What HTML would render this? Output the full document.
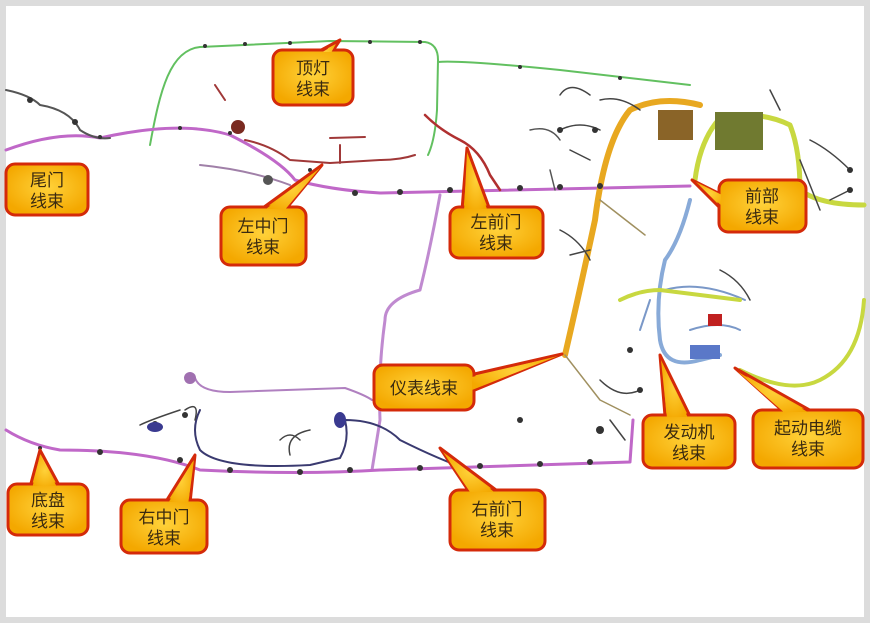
<!DOCTYPE html>
<html><head><meta charset="utf-8"><style>
html,body{margin:0;padding:0;background:#dcdcdc;}
svg{display:block;}
text{font-family:"Liberation Sans","Noto Sans CJK SC",sans-serif;font-size:17px;fill:#3a2a10;text-anchor:middle;}
</style></head><body>
<svg width="870" height="623" viewBox="0 0 870 623" xmlns="http://www.w3.org/2000/svg">
<defs>
<radialGradient id="g" cx="50%" cy="45%" r="60%"><stop offset="0" stop-color="#ffd23a"/><stop offset="1" stop-color="#f4a800"/></radialGradient>
</defs>
<rect x="0" y="0" width="870" height="623" fill="#dcdcdc"/>
<rect x="6" y="6" width="858" height="611" fill="#fff"/>

<g fill="none" stroke-linecap="round" stroke-linejoin="round">
<path d="M150 145 C160 90 170 50 200 47 L330 41 L425 42 Q438 44 438 60 L437 110 Q435 140 428 155 M438 62 Q460 60 560 70 L690 85" stroke="#62c060" stroke-width="2"/>
<path d="M6 150 Q60 130 100 138 Q180 120 230 135 Q280 160 295 180 Q330 190 380 193 L690 186" stroke="#c068c8" stroke-width="3"/>
<path d="M6 90 Q30 95 40 105 Q70 110 80 130 Q95 140 110 138" stroke="#555" stroke-width="2"/>
<path d="M200 165 Q250 170 290 185" stroke="#a080a8" stroke-width="2"/>
<path d="M245 140 Q270 145 290 160 L330 163 L380 160 Q400 160 415 155 M340 145 L340 163 M330 138 L365 137 M215 85 L225 100" stroke="#a03838" stroke-width="2"/>
<path d="M425 115 Q440 130 460 140 Q480 150 490 175 L500 190" stroke="#b03030" stroke-width="2.5"/>
<path d="M440 195 Q430 250 420 290 Q385 300 385 320 Q378 370 380 420 L372 470" stroke="#c08ad0" stroke-width="3"/>
<path d="M6 430 Q30 445 60 450 Q150 450 200 470 Q300 475 380 470 L630 462 L633 420" stroke="#c068c8" stroke-width="3"/>
<path d="M200 410 Q190 430 200 450 Q220 470 310 465 L340 458 Q350 440 345 420 Q380 420 400 440 Q440 460 470 470" stroke="#3a3a70" stroke-width="2"/>
<path d="M180 410 Q150 420 140 425 M185 410 Q200 400 195 420 M280 440 Q290 430 300 440 M290 455 Q285 435 310 430" stroke="#444" stroke-width="1.5"/>
<path d="M195 378 Q200 392 230 392 L345 388 Q365 395 372 400" stroke="#b080c0" stroke-width="2"/>
<path d="M565 355 Q580 290 595 220 Q605 140 630 110 Q660 95 700 105" stroke="#e8a820" stroke-width="6"/>
<path d="M695 180 Q700 140 720 118 Q760 110 790 125 Q800 150 800 190 Q820 205 864 205" stroke="#c8d840" stroke-width="5"/>
<path d="M690 200 Q680 240 665 260 Q655 300 660 340 Q665 370 700 360 L720 355" stroke="#88aad8" stroke-width="4"/>
<path d="M665 290 Q700 280 745 300 M690 330 Q720 320 740 330 M640 330 L650 300" stroke="#7a98c8" stroke-width="2"/>
<path d="M620 300 Q640 290 660 290 L740 300 M740 370 Q790 395 820 380 Q860 360 864 300" stroke="#c8d840" stroke-width="4"/>
<path d="M565 355 L600 400 L630 415 M600 200 L645 235" stroke="#a09060" stroke-width="1.5"/>
<path d="M560 130 Q580 120 600 130 M600 100 Q620 95 640 110 M590 160 L570 150 M560 230 Q580 240 590 260 M570 255 L590 250 M600 380 Q620 400 640 390 M610 420 L625 440 M770 90 L780 110 M810 140 Q830 150 850 170 M830 200 L850 190 M800 160 L820 210 M720 270 Q740 280 750 300 M560 95 Q570 80 590 95" stroke="#444" stroke-width="1.5"/>
<path d="M530 130 Q550 125 560 140 M550 170 L555 190" stroke="#555" stroke-width="1.5"/>
</g>
<g fill="#333">
<circle cx="205" cy="46" r="2"/><circle cx="245" cy="44" r="2"/><circle cx="290" cy="43" r="2"/><circle cx="370" cy="42" r="2"/><circle cx="420" cy="42" r="2"/><circle cx="520" cy="67" r="2"/><circle cx="620" cy="78" r="2"/>
<circle cx="30" cy="100" r="3"/><circle cx="75" cy="122" r="3"/><circle cx="100" cy="137" r="2"/><circle cx="180" cy="128" r="2"/><circle cx="230" cy="133" r="2"/>
<circle cx="310" cy="170" r="2"/><circle cx="355" cy="193" r="3"/><circle cx="400" cy="192" r="3"/><circle cx="450" cy="190" r="3"/><circle cx="520" cy="188" r="3"/><circle cx="560" cy="187" r="3"/><circle cx="600" cy="186" r="3"/>
<circle cx="40" cy="448" r="2"/><circle cx="100" cy="452" r="3"/><circle cx="180" cy="460" r="3"/><circle cx="230" cy="470" r="3"/><circle cx="300" cy="472" r="3"/><circle cx="350" cy="470" r="3"/><circle cx="420" cy="468" r="3"/><circle cx="480" cy="466" r="3"/><circle cx="540" cy="464" r="3"/><circle cx="590" cy="462" r="3"/>
<circle cx="155" cy="424" r="3"/><circle cx="185" cy="415" r="3"/><circle cx="520" cy="420" r="3"/><circle cx="600" cy="430" r="4"/><circle cx="630" cy="350" r="3"/><circle cx="640" cy="390" r="3"/><circle cx="850" cy="170" r="3"/><circle cx="850" cy="190" r="3"/><circle cx="560" cy="130" r="3"/><circle cx="595" cy="130" r="3"/>
</g>
<ellipse cx="155" cy="427" rx="8" ry="5" fill="#3a3a90"/>
<ellipse cx="340" cy="420" rx="6" ry="8" fill="#3a3a90"/>
<rect x="658" y="110" width="35" height="30" fill="#8a6428"/>
<rect x="715" y="112" width="48" height="38" fill="#707a30"/>
<rect x="708" y="314" width="14" height="12" fill="#c02020"/>
<rect x="690" y="345" width="30" height="14" fill="#5a78c8"/>
<circle cx="190" cy="378" r="6" fill="#a070b0"/>
<circle cx="238" cy="127" r="7" fill="#7a2a20"/>
<circle cx="268" cy="180" r="5" fill="#555"/>

<g fill="url(#g)" stroke="#d42a0a" stroke-width="3" stroke-linejoin="round">
<polygon points="312,55 340,40 330,55"/><rect x="273" y="50" width="80" height="55" rx="9"/>
<polygon points="7,185 14,195 7,200"/><rect x="6" y="164" width="82" height="51" rx="9"/>
<polygon points="260,210 322,165 285,210"/><rect x="221" y="207" width="85" height="58" rx="9"/>
<polygon points="462,210 467,148 490,210"/><rect x="450" y="207" width="93" height="51" rx="9"/>
<polygon points="722,195 692,180 722,210"/><rect x="719" y="180" width="87" height="52" rx="9"/>
<polygon points="470,375 562,354 470,392"/><rect x="374" y="365" width="100" height="45" rx="9"/>
<polygon points="665,416 660,355 690,416"/><rect x="643" y="415" width="92" height="53" rx="9"/>
<polygon points="785,413 735,368 815,413"/><rect x="753" y="410" width="110" height="58" rx="9"/>
<polygon points="30,487 40,450 60,487"/><rect x="8" y="484" width="80" height="51" rx="9"/>
<polygon points="165,503 195,455 190,503"/><rect x="121" y="500" width="86" height="53" rx="9"/>
<polygon points="470,493 440,448 500,493"/><rect x="450" y="490" width="95" height="60" rx="9"/>
</g>
<g fill="url(#g)">
<polygon points="314,57 336,44 328,58"/><rect x="275" y="52" width="76" height="51" rx="8"/>
<rect x="8" y="166" width="78" height="47" rx="8"/>
<polygon points="262,212 320,168 283,212"/><rect x="223" y="209" width="81" height="54" rx="8"/>
<polygon points="464,212 467,152 488,212"/><rect x="452" y="209" width="89" height="47" rx="8"/>
<polygon points="724,196 696,182 724,208"/><rect x="721" y="182" width="83" height="48" rx="8"/>
<polygon points="472,377 558,356 472,390"/><rect x="376" y="367" width="96" height="41" rx="8"/>
<polygon points="667,418 661,360 688,418"/><rect x="645" y="417" width="88" height="49" rx="8"/>
<polygon points="787,415 738,372 813,415"/><rect x="755" y="412" width="106" height="54" rx="8"/>
<polygon points="32,489 40,455 58,489"/><rect x="10" y="486" width="76" height="47" rx="8"/>
<polygon points="167,505 194,460 188,505"/><rect x="123" y="502" width="82" height="49" rx="8"/>
<polygon points="472,495 443,452 498,495"/><rect x="452" y="492" width="91" height="56" rx="8"/>
</g>
<text x="313" y="74">顶灯</text><text x="313" y="95">线束</text>
<text x="47" y="186">尾门</text><text x="47" y="207">线束</text>
<text x="263" y="232">左中门</text><text x="263" y="253">线束</text>
<text x="496" y="228">左前门</text><text x="496" y="249">线束</text>
<text x="762" y="202">前部</text><text x="762" y="223">线束</text>
<text x="424" y="394">仪表线束</text>
<text x="689" y="438">发动机</text><text x="689" y="459">线束</text>
<text x="808" y="434">起动电缆</text><text x="808" y="455">线束</text>
<text x="48" y="506">底盘</text><text x="48" y="527">线束</text>
<text x="164" y="523">右中门</text><text x="164" y="544">线束</text>
<text x="497" y="515">右前门</text><text x="497" y="536">线束</text>
</svg>
</body></html>
